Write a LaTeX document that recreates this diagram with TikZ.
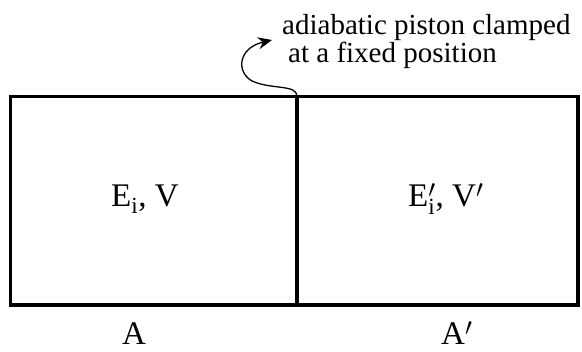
\documentclass[tikz,border=0pt]{standalone}
\usepackage{fontspec}
\setmainfont{Liberation Serif}
\usepackage{tikz}
\usetikzlibrary{arrows, arrows.meta, positioning}

\begin{document}
\begin{tikzpicture}[x=1pt,y=-1pt]
\tikzset{wall/.style = {line width=3.5pt,line cap=rect},
         label/.style = {inner sep=0pt,anchor=base west,font=\fontsize{33}{38}\selectfont},
         note/.style = {inner sep=0pt,anchor=base west,font=\fontsize{29}{32}\selectfont},
         pointer/.style = {line width=1.3pt,-{Stealth[length=14pt,width=12pt]}}}
\useasboundingbox (0,0) rectangle (582,352);
% box and piston
\coordinate (nw) at (10.5,96.5);
\coordinate (se) at (578,305);
\coordinate (pistontop) at (297,96.5);
\coordinate (pistonbot) at (297,305);
\draw[wall] (nw) rectangle (se);
\draw[wall] (pistontop) -- (pistonbot);

% labels
\node[label] (left) at (111,207) {E$_{\mathrm{i}}$, V};
\node[label] (right) at (408,207) {E$'_{\mathrm{i}}$, V$'$};
\node[label] (A) at (122,345) {A};
\node[label] (Aprime) at (441,345) {A$'$};

% note
\node[note] (note1) at (282,35) {adiabatic piston clamped};
\node[note] (note2) at (288,63) {at a fixed position};

%arrow
\coordinate (tip) at (272,40);
\draw[pointer] (pistontop) .. controls (297,84) and (272,90) .. (252,81)
  .. controls (236,72) and (238,48) .. (tip);
\end{tikzpicture}
\end{document}
